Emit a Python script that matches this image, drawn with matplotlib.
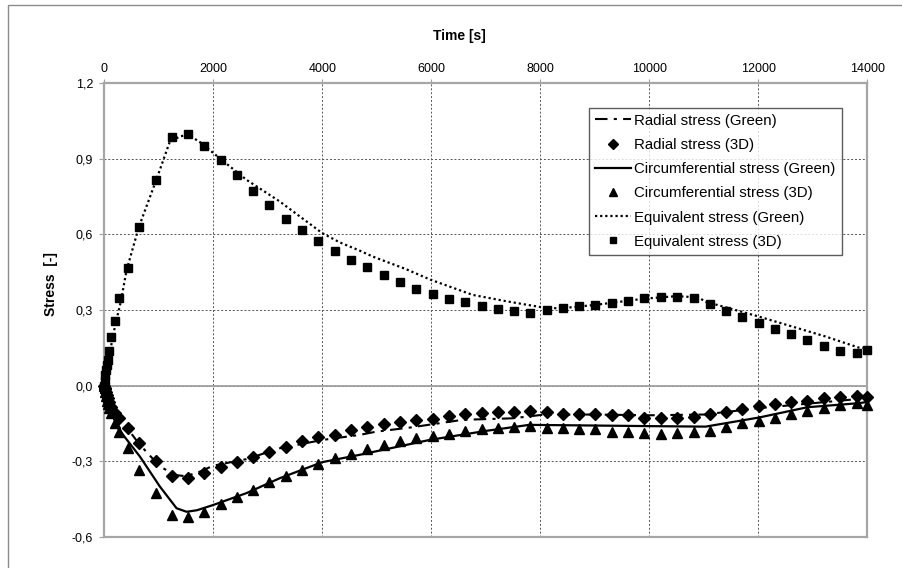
import matplotlib
matplotlib.use("Agg")
import matplotlib.pyplot as plt
from matplotlib.patches import Rectangle

plt.rcParams['font.family'] = ['Liberation Sans', 'DejaVu Sans']

# ---------------- data ----------------
t_3d = [0, 10, 20, 30, 45, 62, 86, 123, 196, 275, 430, 635, 941, 1240, 1538, 1832,
        2137, 2436, 2729, 3022, 3328, 3634, 3927, 4231, 4524, 4828, 5128, 5428, 5727,
        6026, 6326, 6619, 6923, 7229, 7516, 7815, 8114, 8420, 8718, 9011, 9317, 9615,
        9908, 10214, 10507, 10813, 11106, 11410, 11703, 12009, 12302, 12608, 12901,
        13205, 13505, 13804, 13990]

radial_3d = [0.0, -0.008, -0.015, -0.025, -0.038, -0.05, -0.065, -0.085, -0.11, -0.13,
             -0.167, -0.229, -0.299, -0.361, -0.365, -0.347, -0.325, -0.304, -0.282,
             -0.262, -0.242, -0.222, -0.206, -0.196, -0.178, -0.163, -0.153, -0.143,
             -0.136, -0.131, -0.120, -0.112, -0.107, -0.103, -0.103, -0.099, -0.106,
             -0.111, -0.114, -0.114, -0.116, -0.116, -0.127, -0.130, -0.130, -0.126,
             -0.114, -0.106, -0.094, -0.083, -0.074, -0.067, -0.061, -0.050, -0.044,
             -0.041, -0.046]

circ_3d = [0.0, -0.01, -0.025, -0.04, -0.06, -0.075, -0.09, -0.11, -0.15, -0.185,
           -0.249, -0.335, -0.427, -0.513, -0.523, -0.501, -0.470, -0.441, -0.414,
           -0.381, -0.358, -0.335, -0.311, -0.288, -0.271, -0.250, -0.235, -0.220,
           -0.209, -0.200, -0.192, -0.180, -0.171, -0.167, -0.163, -0.159, -0.167,
           -0.169, -0.172, -0.173, -0.183, -0.185, -0.189, -0.192, -0.189, -0.185,
           -0.179, -0.163, -0.149, -0.139, -0.127, -0.112, -0.099, -0.090, -0.077,
           -0.070, -0.077]

equiv_3d = [0.0, 0.02, 0.04, 0.06, 0.08, 0.102, 0.139, 0.191, 0.257, 0.347, 0.465,
            0.630, 0.817, 0.988, 0.999, 0.952, 0.895, 0.834, 0.774, 0.717, 0.663,
            0.618, 0.573, 0.535, 0.499, 0.469, 0.437, 0.410, 0.385, 0.365, 0.345,
            0.330, 0.314, 0.302, 0.295, 0.290, 0.299, 0.308, 0.314, 0.319, 0.329,
            0.336, 0.347, 0.353, 0.352, 0.347, 0.323, 0.298, 0.273, 0.249, 0.225,
            0.203, 0.179, 0.159, 0.138, 0.129, 0.142]

t_rad_g = [0, 100, 250, 640, 1020, 1300, 1500, 1750, 2000, 2608, 3218, 4000, 4683,
           4988, 5598, 6575, 7491, 8040, 9000, 10000, 11000, 12000, 13000, 14000]
radial_green = [0.0, -0.06, -0.12, -0.232, -0.321, -0.355, -0.36, -0.342, -0.318,
                -0.292, -0.249, -0.216, -0.196, -0.183, -0.167, -0.136, -0.130,
                -0.116, -0.115, -0.118, -0.115, -0.090, -0.070, -0.050]

t_circ_g = [0, 50, 100, 227, 654, 1020, 1326, 1509, 1700, 2000, 2608, 3218, 4000,
            4683, 5965, 7000, 7797, 9139, 10000, 11033, 12009, 12901, 13840, 14000]
circ_green = [0.0, -0.04, -0.08, -0.163, -0.282, -0.401, -0.487, -0.501, -0.495,
              -0.474, -0.427, -0.368, -0.304, -0.275, -0.216, -0.180, -0.156, -0.159,
              -0.161, -0.163, -0.127, -0.086, -0.070, -0.065]

t_eq_g = [0, 50, 100, 200, 300, 410, 635, 960, 1203, 1400, 1550, 1800, 2000, 2608,
          3218, 4000, 4315, 4683, 4927, 5538, 5989, 6758, 7370, 7993, 8346, 9000,
          9908, 10500, 10900, 11033, 12009, 13231, 13840, 14000]
equiv_green = [0.0, 0.07, 0.13, 0.24, 0.33, 0.459, 0.63, 0.82, 0.969, 0.99, 0.995,
               0.96, 0.923, 0.817, 0.731, 0.605, 0.569, 0.536, 0.512, 0.462, 0.420,
               0.360, 0.335, 0.312, 0.306, 0.320, 0.345, 0.355, 0.350, 0.333, 0.274,
               0.195, 0.151, 0.148]

x_ticks = [0, 2000, 4000, 6000, 8000, 10000, 12000, 14000]
y_ticks = [-0.6, -0.3, 0.0, 0.3, 0.6, 0.9, 1.2]
y_tick_labels = ['-0,6', '-0,3', '0,0', '0,3', '0,6', '0,9', '1,2']

# ---------------- figure ----------------
W, H = 903, 568
fig = plt.figure(figsize=(W / 100, H / 100), dpi=100)
fig.patch.set_facecolor('white')

# outer chart border (left and top visible)
fig.add_artist(Rectangle((8 / W, -0.2), 1.5, 1.2 - 5 / H, transform=fig.transFigure,
                         fill=False, edgecolor='#8a8a8a', linewidth=1.0))

left, right = 104.3 / W, 867.3 / W
top, bottom = 1 - 83.3 / H, 1 - 536.7 / H
ax = fig.add_axes([left, bottom, right - left, top - bottom])

ax.set_xlim(0, 14000)
ax.set_ylim(-0.6, 1.2)
ax.set_xticks(x_ticks)
ax.set_xticklabels([str(v) for v in x_ticks])
ax.set_yticks(y_ticks)
ax.set_yticklabels(y_tick_labels)

ax.grid(True, linestyle=(0, (2, 2)), linewidth=0.7, color='#555555')
ax.set_axisbelow(True)
ax.axhline(0, color='#a0a0a0', linewidth=1.3, zorder=1)

for sp in ax.spines.values():
    sp.set_color('#a6a6a6')
    sp.set_linewidth(1.6)

ax.tick_params(axis='x', top=True, bottom=False, labeltop=True, labelbottom=False,
               direction='out', length=3, color='#a0a0a0', labelsize=9, pad=3)
ax.tick_params(axis='y', direction='out', length=3.6, color='#a0a0a0',
               labelsize=9, pad=4.5)

# lines (Green) and 3D markers
ax.plot(t_rad_g, radial_green, color='black', linewidth=1.5,
        linestyle=(0, (6, 3, 1.5, 3)), label='Radial stress (Green)', zorder=3)
ax.plot(t_3d, radial_3d, linestyle='none', marker='D', markersize=6,
        color='black', label='Radial stress (3D)', clip_on=False, zorder=4)
ax.plot(t_circ_g, circ_green, color='black', linewidth=1.6, linestyle='-',
        label='Circumferential stress (Green)', zorder=3)
ax.plot(t_3d, circ_3d, linestyle='none', marker='^', markersize=7.5,
        color='black', label='Circumferential stress (3D)', clip_on=False, zorder=4)
ax.plot(t_eq_g, equiv_green, color='black', linewidth=1.6,
        linestyle=(0, (1, 1.3)), label='Equivalent stress (Green)', zorder=3)
ax.plot(t_3d, equiv_3d, linestyle='none', marker='s', markersize=5.5,
        color='black', label='Equivalent stress (3D)', clip_on=False, zorder=4)

leg = ax.legend(loc='upper left', bbox_to_anchor=(589.3 / W, 1 - 107.7 / H),
                bbox_transform=fig.transFigure, fontsize=10.8, frameon=True,
                fancybox=False, borderpad=0.4, handlelength=2.4,
                handletextpad=0.2, labelspacing=0.68, borderaxespad=0,
                numpoints=1, markerscale=0.8)
leg.get_frame().set_edgecolor('#333333')
leg.get_frame().set_linewidth(1.0)
leg.set_zorder(10)

fig.text(459.5 / W, 1 - 36 / H, 'Time [s]', ha='center', va='center',
         fontsize=10, fontweight='bold')
fig.text(50.7 / W, 1 - 284 / H, 'Stress  [-]', ha='center', va='center',
         fontsize=10, fontweight='bold', rotation=90)

fig.savefig('out.png', dpi=100, facecolor='white')
